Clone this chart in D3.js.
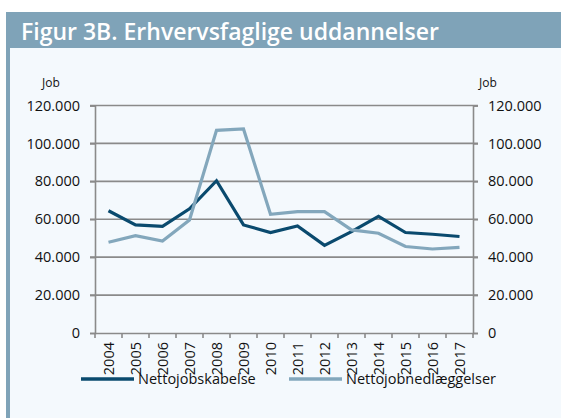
<!DOCTYPE html>
<html lang="da">
<head>
<meta charset="utf-8">
<title>Figur 3B</title>
<script src="https://cdn.jsdelivr.net/npm/d3@7"></script>
<style>
  body { margin: 0; background: #fff; }
  svg { display: block; font-family: "Open Sans", sans-serif; }
</style>
</head>
<body>
<div id="chart"></div>
<script>
// data
var years = ["2004","2005","2006","2007","2008","2009","2010","2011","2012","2013","2014","2015","2016","2017"];
var jobskabelse = [64500, 57000, 56200, 65500, 80300, 57000, 53000, 56500, 46200, 53500, 61500, 53000, 52100, 50900];
var jobnedlaeggelser = [47900, 51300, 48500, 59600, 106900, 107600, 62600, 64000, 64000, 54400, 52600, 45600, 44300, 45200];
var yTicks = [0, 20000, 40000, 60000, 80000, 100000, 120000];
var seriesNames = ["Nettojobskabelse", "Nettojobnedlæggelser"];

var W = 561, H = 418;
var dark = "#0a4a6e", light = "#83a7bc", frame = "#7fa3b8";

var svg = d3.select("#chart").append("svg")
    .attr("width", W).attr("height", H);

// panel
svg.append("rect").attr("x", 6).attr("y", 12).attr("width", W - 6).attr("height", H - 12)
    .attr("fill", "#f4f9fd");
svg.append("rect").attr("x", 6).attr("y", 12).attr("width", W - 6).attr("height", 36)
    .attr("fill", frame);
svg.append("rect").attr("x", 6).attr("y", 12).attr("width", 4).attr("height", H - 12)
    .attr("fill", frame);
svg.append("text").attr("x", 21).attr("y", 40)
    .attr("fill", "#fff").attr("font-size", 23).attr("font-weight", 600)
    .text("Figur 3B. Erhvervsfaglige uddannelser");

var pLeft = 95, pRight = 473, pTop = 105.5, pBottom = 333;

var x = d3.scaleBand().domain(years).range([pLeft, pRight]);
var y = d3.scaleLinear().domain([0, 120000]).range([pBottom, pTop]);
var fmt = function(d) { return d3.format(",")(d).replace(/,/g, "."); };

// gridlines
svg.append("g").selectAll("line").data(yTicks.slice(1)).enter().append("line")
    .attr("x1", pLeft - 5).attr("x2", pRight + 5)
    .attr("y1", function(d) { return y(d); }).attr("y2", function(d) { return y(d); })
    .attr("stroke", "#8a8a8a").attr("stroke-width", 1.6);

var gy = svg.append("g").attr("transform", "translate(" + pLeft + ",0)")
    .call(d3.axisLeft(y).tickValues(yTicks).tickFormat(fmt).tickSize(5).tickPadding(10));
var gy2 = svg.append("g").attr("transform", "translate(" + pRight + ",0)")
    .call(d3.axisRight(y).tickValues(yTicks).tickFormat(fmt).tickSize(5).tickPadding(10));
var gx = svg.append("g").attr("transform", "translate(0," + pBottom + ")")
    .call(d3.axisBottom(x).tickSize(0).tickPadding(0));

[gy, gy2].forEach(function(g) {
    g.select(".domain").attr("stroke", "#8a8a8a").attr("stroke-width", 1.6);
    g.selectAll(".tick line").attr("stroke", "#8a8a8a").attr("stroke-width", 1.6);
    g.selectAll("text").attr("font-size", 14.5).attr("fill", "#111")
        .attr("font-family", "Open Sans, sans-serif");
});

gx.select(".domain").attr("stroke", "#8a8a8a").attr("stroke-width", 1.6);
gx.selectAll(".tick text")
    .attr("transform", "rotate(-90)")
    .attr("x", -9).attr("y", 0).attr("dy", "0.35em")
    .style("text-anchor", "end")
    .attr("font-size", 14.5).attr("fill", "#111")
    .attr("font-family", "Open Sans, sans-serif");

// x tick marks at band boundaries
var bounds = years.map(function(d) { return x(d); }).concat([pRight]);
svg.append("g").selectAll("line").data(bounds).enter().append("line")
    .attr("x1", function(d) { return d; }).attr("x2", function(d) { return d; })
    .attr("y1", pBottom).attr("y2", pBottom + 5)
    .attr("stroke", "#8a8a8a").attr("stroke-width", 1.6);

svg.append("text").attr("x", 42).attr("y", 87).attr("font-size", 12).attr("fill", "#111").text("Job");
svg.append("text").attr("x", 479).attr("y", 87).attr("font-size", 12).attr("fill", "#111").text("Job");

var line = d3.line()
    .x(function(d, i) { return x(years[i]) + x.bandwidth() / 2; })
    .y(function(d) { return y(d); });

svg.append("path").datum(jobskabelse).attr("d", line)
    .attr("fill", "none").attr("stroke", dark).attr("stroke-width", 3.2);
svg.append("path").datum(jobnedlaeggelser).attr("d", line)
    .attr("fill", "none").attr("stroke", light).attr("stroke-width", 3.2);

// legend
var leg = [{x: 81, c: dark, t: seriesNames[0]}, {x: 289, c: light, t: seriesNames[1]}];
leg.forEach(function(l) {
    svg.append("line").attr("x1", l.x).attr("x2", l.x + 53).attr("y1", 379).attr("y2", 379)
        .attr("stroke", l.c).attr("stroke-width", 3.5);
    svg.append("text").attr("x", l.x + 57).attr("y", 384).attr("font-size", 14.5).attr("fill", "#111")
        .text(l.t);
});
</script>
</body>
</html>
